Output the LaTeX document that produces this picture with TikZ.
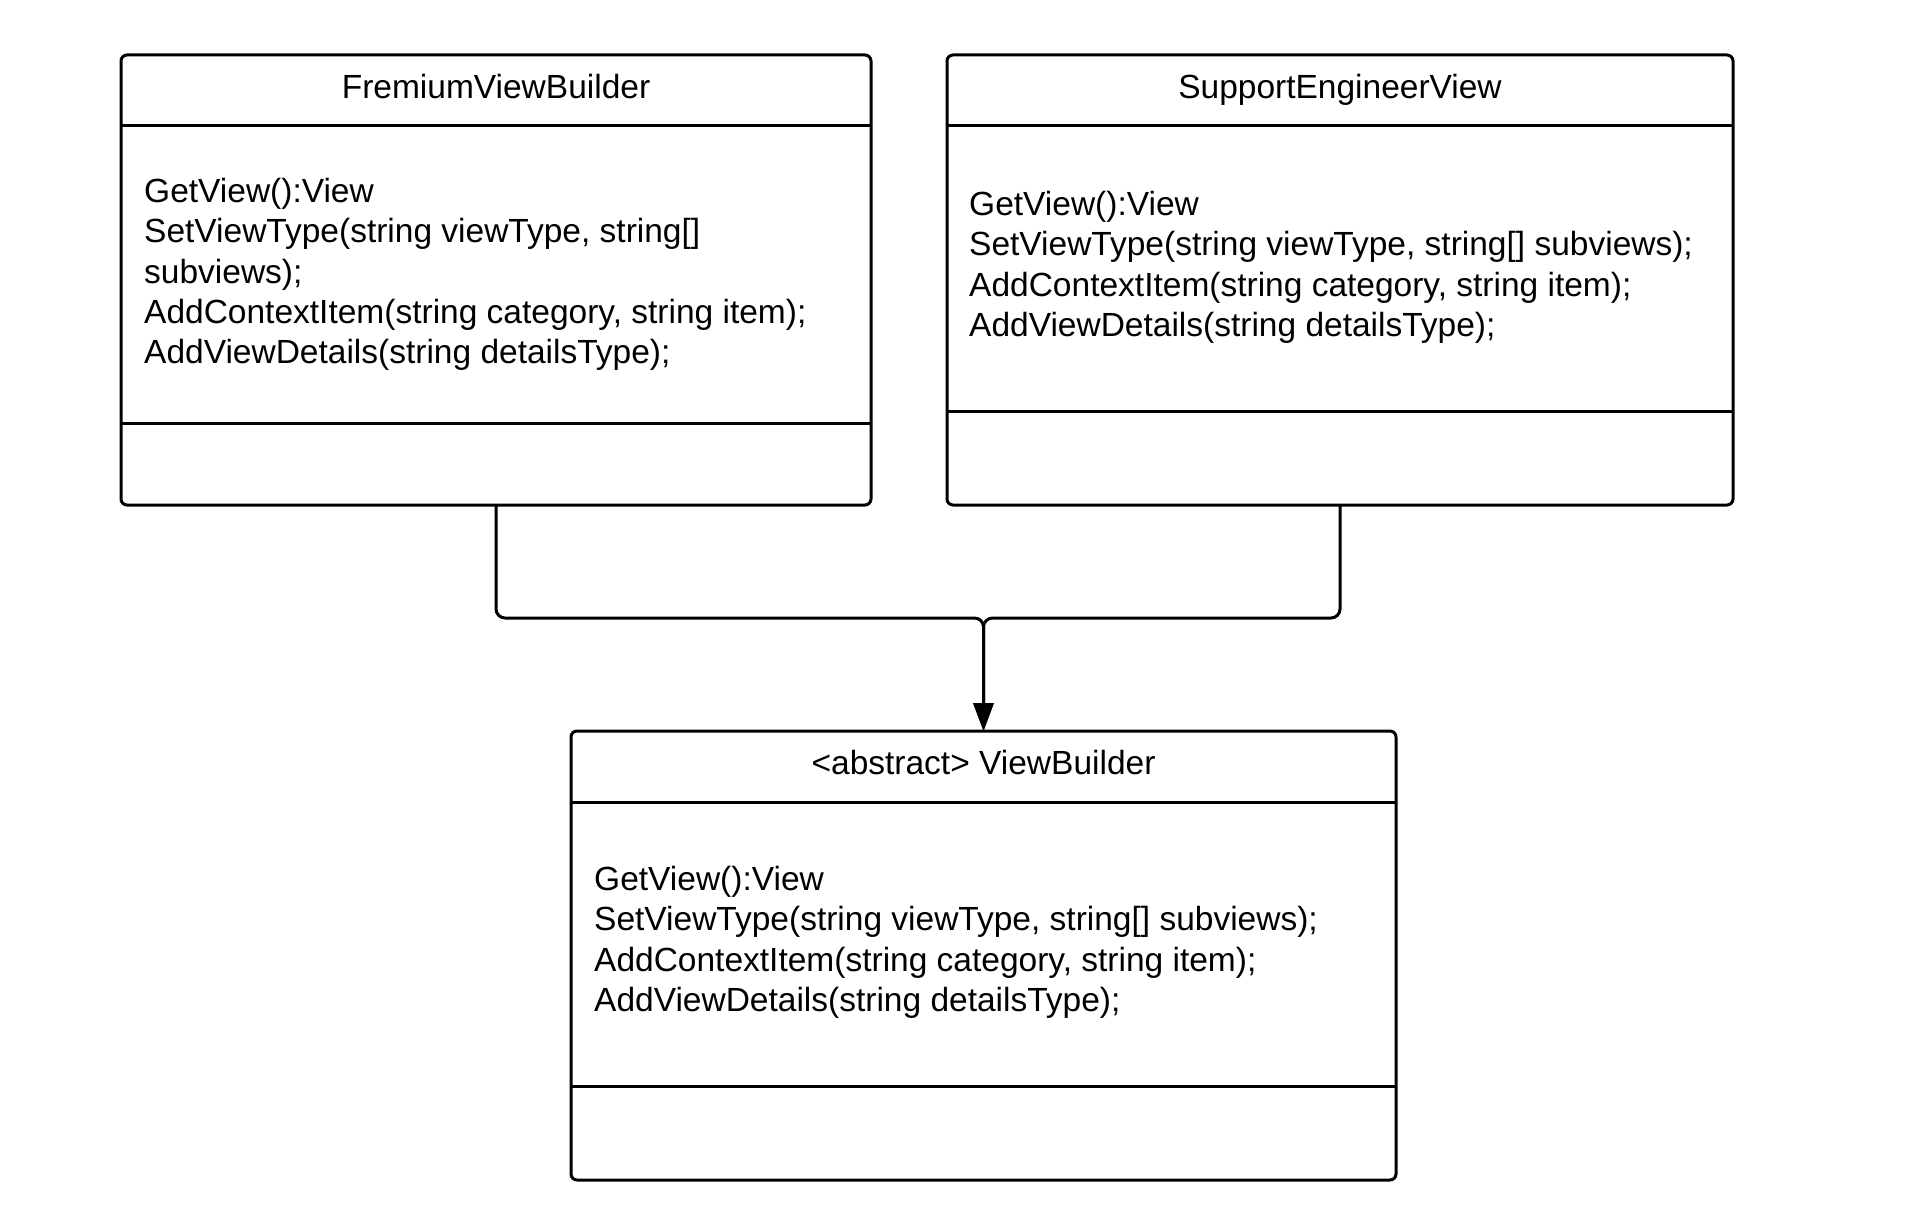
\documentclass[tikz,border=0pt]{standalone}
\usepackage{fontspec}
\setmainfont{Liberation Sans}
\usetikzlibrary{arrows.meta}
\tikzset{
  umlbox/.style={draw=black, line width=3pt, rounded corners=6pt, anchor=north west, inner sep=0pt, outer sep=0pt},
  divline/.style={draw=black, line width=3pt},
  umltitle/.style={font=\fontsize{33.5}{40.4}\selectfont, inner sep=0pt, anchor=base},
  umltext/.style={font=\fontsize{33.5}{40.4}\selectfont, inner sep=0pt, align=left, anchor=west},
  conn/.style={draw=black, line width=3pt, rounded corners=9pt, -{Triangle[length=28pt,width=20pt]}}
}
\begin{document}
\begin{tikzpicture}[x=1pt,y=-1pt]
\useasboundingbox (0,0) rectangle (1918,1206);
% Box 1
\node[umlbox, minimum width=750pt, minimum height=450pt] (fvb) at (121,55) {};
\draw[divline] (121,126) -- (871,126);
\draw[divline] (121,423) -- (871,423);
\node[umltitle] (fvbt) at (496,99) {FremiumViewBuilder};
\node[umltext] (fvbm) at (144,274.5) {GetView():View\\SetViewType(string viewType, string[]\\subviews);\\AddContextItem(string category, string item);\\AddViewDetails(string detailsType);};
% Box 2
\node[umlbox, minimum width=786pt, minimum height=450pt] (sev) at (947,55) {};
\draw[divline] (947,126) -- (1733,126);
\draw[divline] (947,411) -- (1733,411);
\node[umltitle] (sevt) at (1340,99) {SupportEngineerView};
\node[umltext] (sevm) at (969,267.5) {GetView():View\\SetViewType(string viewType, string[] subviews);\\AddContextItem(string category, string item);\\AddViewDetails(string detailsType);};
% Box 3
\node[umlbox, minimum width=825pt, minimum height=449pt] (vb) at (571,731) {};
\draw[divline] (571,802) -- (1396,802);
\draw[divline] (571,1086) -- (1396,1086);
\node[umltitle] (vbt) at (983.5,774) {<abstract> ViewBuilder};
\node[umltext] (vbm) at (594,942.5) {GetView():View\\SetViewType(string viewType, string[] subviews);\\AddContextItem(string category, string item);\\AddViewDetails(string detailsType);};
% Connectors
\coordinate (j) at (983.5,618);
\draw[conn] (fvb.south) |- (j) -- (vb.north -| j);
\draw[conn] (sev.south) |- (j) -- (vb.north -| j);
\end{tikzpicture}
\end{document}
